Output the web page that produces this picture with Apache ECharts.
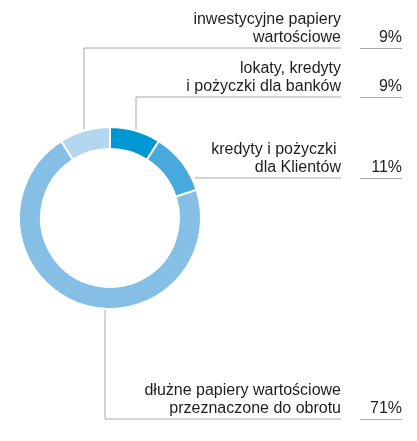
<!DOCTYPE html>
<html>
<head>
<meta charset="utf-8">
<script src="https://cdn.jsdelivr.net/npm/echarts@6/dist/echarts.min.js"></script>
<style>
  html, body { margin: 0; padding: 0; background: #fff; }
  #main { width: 417px; height: 441px; }
</style>
</head>
<body>
<div id="main"></div>
<script>
// dane (kolejność zgodnie z ruchem wskazówek zegara od góry)
var names = [
    'lokaty, kredyty\ni pożyczki dla banków',
    'kredyty i pożyczki \ndla Klientów',
    'dłużne papiery wartościowe\nprzeznaczone do obrotu',
    'inwestycyjne papiery\nwartościowe'
];
var values = [9, 11, 71, 9];
var colors = ['#0098d4', '#48a9dc', '#86bfe5', '#b4d7ef'];

// położenie linii opisów: x pionowego odcinka, y poziomej linii
var leaderX = [136, 195, 105, 84];
var leaderY = [97, 178, 419, 48];

var cx = 110, cy = 218, rOut = 91, rIn = 69;
var textRight = 341, pctRight = 402;

var myChart = echarts.init(document.getElementById('main'));

function anchor(i) {
    var x = leaderX[i];
    var dy = Math.sqrt(rOut * rOut - (x - cx) * (x - cx));
    var y = leaderY[i] < cy ? cy - dy : cy + dy;
    if (i === 1) {
        // linia pozioma wychodzi prosto z krawędzi pierścienia
        return [[x, leaderY[i]], [x, leaderY[i]], [textRight, leaderY[i]]];
    }
    return [[x, y], [x, leaderY[i]], [textRight, leaderY[i]]];
}

var data = values.map(function (v, i) {
    return { name: names[i], value: v, itemStyle: { color: colors[i] } };
});

var option = {
    animation: false,
    series: [{
        type: 'pie',
        center: [cx, cy],
        radius: [rIn, rOut],
        startAngle: 90,
        clockwise: true,
        avoidLabelOverlap: false,
        itemStyle: { borderColor: '#fff', borderWidth: 2 },
        emphasis: { disabled: true },
        label: {
            show: true,
            position: 'outside',
            formatter: function (p) {
                var lines = p.name.split('\n');
                return lines.map(function (l, k) {
                    return '{n|' + l + '}' + (k === lines.length - 1 ? '{p|' + p.value + '%}' : '{s|}');
                }).join('\n');
            },
            rich: {
                n: { fontFamily: 'Liberation Sans', fontSize: 16, color: '#1e1e1e', lineHeight: 18 },
                p: { fontFamily: 'Liberation Sans', fontSize: 16, color: '#1e1e1e', lineHeight: 18, width: pctRight - textRight, align: 'right' },
                s: { width: pctRight - textRight, lineHeight: 18 }
            }
        },
        labelLine: {
            show: true,
            lineStyle: { color: '#a8a8a8', width: 1 }
        },
        labelLayout: function (params) {
            var i = params.dataIndex;
            return {
                x: pctRight,
                y: leaderY[i] - 1,
                align: 'right',
                verticalAlign: 'bottom',
                labelLinePoints: anchor(i)
            };
        },
        data: data
    }],
    graphic: leaderY.map(function (y) {
        return {
            type: 'line',
            shape: { x1: textRight + 19, y1: y + 0.5, x2: pctRight, y2: y + 0.5 },
            style: { stroke: '#a8a8a8', lineWidth: 1 }
        };
    })
};

myChart.setOption(option);
</script>
</body>
</html>
